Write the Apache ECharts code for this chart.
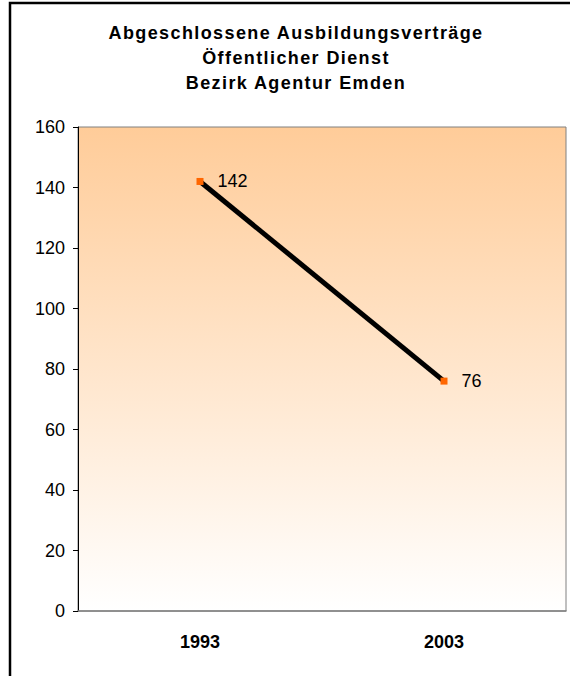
<!DOCTYPE html>
<html><head><meta charset="utf-8">
<script src="https://cdn.jsdelivr.net/npm/echarts@6/dist/echarts.min.js"></script>
<style>html,body{margin:0;padding:0;background:#fff}#c{width:579px;height:676px}</style>
</head><body><div id="c"></div>
<script>
const titleLines = ['Abgeschlossene Ausbildungsverträge', 'Öffentlicher Dienst', 'Bezirk Agentur Emden'];
const categories = ['1993', '2003'];
const values = [142, 76];
const yMin = 0, yMax = 160, yInterval = 20;

const FONT = "'Liberation Sans', Arial, sans-serif";
const chart = echarts.init(document.getElementById('c'), null, {renderer: 'svg'});
chart.setOption({
  animation: false,
  backgroundColor: '#fff',
  title: {
    text: titleLines.join('\n'),
    left: 296, top: 20, padding: 0, textAlign: 'center',
    textStyle: {fontFamily: FONT, fontSize: 18, fontWeight: 'bold', color: '#000', lineHeight: 25}
  },
  graphic: [{
    type: 'polyline', silent: true,
    shape: {points: [[10, 676], [10, 3], [570, 3]]},
    style: {stroke: '#000', lineWidth: 2.5, fill: null}
  }],
  grid: {
    left: 78, right: 13, top: 127, bottom: 65, show: true,
    borderColor: '#808080', borderWidth: 1,
    backgroundColor: new echarts.graphic.LinearGradient(0, 0, 0, 1, [
      {offset: 0, color: '#FFCC99'}, {offset: 1, color: '#FFFFFF'}
    ])
  },
  xAxis: {
    type: 'category', data: categories, boundaryGap: true,
    axisLine: {lineStyle: {color: '#808080', width: 1.5}},
    axisTick: {show: false},
    axisLabel: {fontFamily: FONT, fontSize: 18, fontWeight: 'bold', color: '#000', margin: 22}
  },
  yAxis: {
    type: 'value', min: yMin, max: yMax, interval: yInterval,
    axisLine: {show: true, lineStyle: {color: '#000', width: 1}},
    axisTick: {show: true, length: 5, lineStyle: {color: '#000'}},
    splitLine: {show: false},
    axisLabel: {fontFamily: FONT, fontSize: 18, color: '#000', margin: 13}
  },
  series: [{
    type: 'line', data: values,
    symbol: 'rect', symbolSize: 7,
    itemStyle: {color: '#FF6600'},
    lineStyle: {color: '#000', width: 5},
    label: {show: true, position: 'right', distance: 14, fontFamily: FONT, fontSize: 18, color: '#000'}
  }]
});
function spaceTitle() {
  document.querySelectorAll('#c svg text').forEach(t => {
    if (titleLines.includes(t.textContent)) t.style.letterSpacing = '1.4px';
  });
}
spaceTitle();
chart.on('finished', spaceTitle);
setTimeout(spaceTitle, 50);
</script>
</body></html>
